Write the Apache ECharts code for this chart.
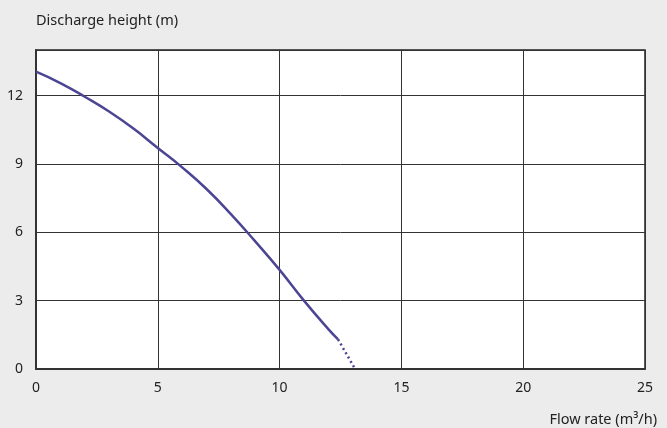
<!DOCTYPE html>
<html><head><meta charset="utf-8">
<script src="https://cdn.jsdelivr.net/npm/echarts@6/dist/echarts.min.js"></script>
<style>html,body{margin:0;padding:0;background:#ececec;}#c{width:667px;height:428px;}</style>
</head><body><div id="c"></div>
<script>
const flowSolid = [0, 1, 2, 3, 4, 5, 6, 7, 8, 9, 10, 11, 12, 12.4];
const headSolid = [13.05, 12.55, 11.95, 11.3, 10.55, 9.7, 8.85, 7.9, 6.8, 5.6, 4.35, 3.0, 1.75, 1.3];
const flowDotted = [12.4, 13.1];
const headDotted = [1.3, 0];
const xTicks = [0, 5, 10, 15, 20, 25];
const yTicks = [0, 3, 6, 9, 12];

const chart = echarts.init(document.getElementById('c'));
const font = '"Noto Sans", sans-serif';
chart.setOption({
  backgroundColor: '#ececec',
  animation: false,
  grid: {left: 36, right: 22, top: 50, bottom: 59, outerBoundsMode: 'none', containLabel: false,
         show: true, backgroundColor: '#ffffff', borderColor: '#222', borderWidth: 1.5},
  xAxis: {
    type: 'value', min: 0, max: 25, interval: 5,
    name: 'Flow rate (m³/h)', nameLocation: 'end', nameGap: 12,
    nameTextStyle: {color: '#222', fontSize: 14.5, fontFamily: font, align: 'right', verticalAlign: 'top', padding: [43, 0, 0, 0]},
    axisLine: {show: true, lineStyle: {color: '#333', width: 2}},
    axisTick: {show: false},
    axisLabel: {color: '#222', fontSize: 14, fontFamily: font, margin: 12, formatter: v => xTicks.includes(v) ? String(v) : ''},
    splitLine: {show: true, lineStyle: {color: '#333', width: 1}}
  },
  yAxis: {
    type: 'value', min: 0, max: 14, interval: 3,
    name: 'Discharge height (m)', nameLocation: 'end',
    nameTextStyle: {color: '#222', fontSize: 14.5, fontFamily: font, align: 'left', padding: [0, 0, 7, 0]},
    axisLine: {show: true, lineStyle: {color: '#333', width: 2}},
    axisTick: {show: false},
    axisLabel: {color: '#222', fontSize: 14, fontFamily: font, margin: 13, formatter: v => yTicks.includes(v) ? String(v) : ''},
    splitLine: {show: true, lineStyle: {color: '#333', width: 1}}
  },
  series: [
    {type: 'line', data: flowSolid.map((x, i) => [x, headSolid[i]]), smooth: true, showSymbol: false,
     lineStyle: {color: '#4b4594', width: 2.5}},
    {type: 'line', data: flowDotted.map((x, i) => [x, headDotted[i]]), showSymbol: false,
     lineStyle: {color: '#4b4594', width: 2.5, type: [2, 3]}}
  ]
});
</script></body></html>
